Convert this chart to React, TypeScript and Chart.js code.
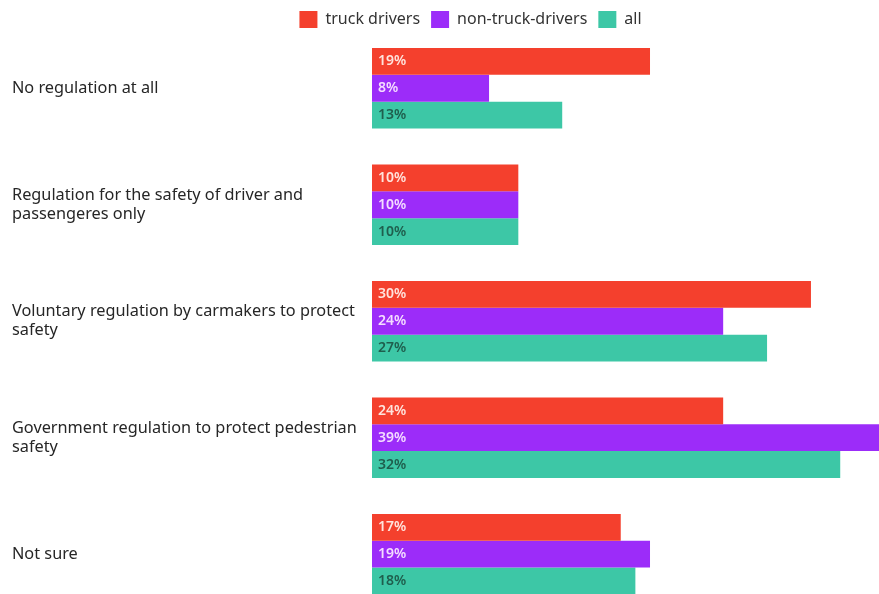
import React, { useEffect, useRef } from 'react';
import { Chart, registerables } from 'chart.js';

Chart.register(...registerables);

const categories: string[][] = [
  ['No regulation at all'],
  ['Regulation for the safety of driver and', 'passengeres only'],
  ['Voluntary regulation by carmakers to protect', 'safety'],
  ['Government regulation to protect pedestrian', 'safety'],
  ['Not sure'],
];
const seriesNames = ['truck drivers', 'non-truck-drivers', 'all'];
const truckDrivers = [19, 10, 30, 24, 17];
const nonTruckDrivers = [8, 10, 24, 39, 19];
const allRespondents = [13, 10, 27, 32, 18];

const barColors = ['#f4402d', '#9c2cf9', '#3dc7a6'];
const labelColors = ['#ffe3dc', '#f4dcff', '#1f5e4d'];
const FONT = '"Noto Sans", "DejaVu Sans", sans-serif';

const valueLabels = {
  id: 'valueLabels',
  afterDatasetsDraw(chart: any) {
    const ctx = chart.ctx;
    ctx.save();
    ctx.font = `600 14px ${FONT}`;
    ctx.textBaseline = 'middle';
    ctx.textAlign = 'left';
    chart.data.datasets.forEach((ds: any, di: number) => {
      const meta = chart.getDatasetMeta(di);
      meta.data.forEach((bar: any, i: number) => {
        ctx.fillStyle = labelColors[di];
        ctx.fillText(ds.data[i] + '%', bar.base + 6, bar.y);
      });
    });
    ctx.restore();
  },
};

const legendShift = {
  id: 'legendShift',
  afterLayout(chart: any) {
    const lg = chart.legend;
    if (lg) {
      lg.left += 25;
      lg.right += 25;
    }
  },
};

export default function App() {
  const ref = useRef<HTMLCanvasElement | null>(null);

  useEffect(() => {
    if (!ref.current) return;
    const values = [truckDrivers, nonTruckDrivers, allRespondents];
    const chart = new Chart(ref.current, {
      type: 'bar',
      data: {
        labels: categories,
        datasets: seriesNames.map((name, i) => ({
          label: name,
          data: values[i],
          backgroundColor: barColors[i],
          borderWidth: 0,
          categoryPercentage: 0.69,
          barPercentage: 1,
        })),
      },
      options: {
        indexAxis: 'y',
        animation: false,
        responsive: true,
        maintainAspectRatio: false,
        layout: { padding: { left: 12, top: 0, right: 0, bottom: 0 } },
        plugins: {
          tooltip: { enabled: false },
          legend: {
            position: 'top',
            maxHeight: 30,
            labels: {
              boxWidth: 18,
              boxHeight: 17,
              padding: 11,
              color: '#333',
              font: { family: FONT, size: 16 },
            },
          },
        },
        scales: {
          x: {
            display: false,
            min: 0,
            max: 34.65,
          },
          y: {
            grid: { display: false },
            border: { display: false },
            ticks: {
              crossAlign: 'far',
              padding: 0,
              color: '#262626',
              font: { family: FONT, size: 16.3, lineHeight: 1.17 },
            },
            afterFit(scale: any) {
              scale.width = 360;
            },
          },
        },
      } as any,
      plugins: [valueLabels, legendShift],
    });
    return () => chart.destroy();
  }, []);

  return (
    <div
      style={{
        position: 'absolute',
        left: 0,
        top: 0,
        width: 879,
        height: 594,
        overflow: 'hidden',
        background: '#fff',
      }}
    >
      <div style={{ position: 'relative', width: 879, height: 622 }}>
        <canvas ref={ref} />
      </div>
    </div>
  );
}
